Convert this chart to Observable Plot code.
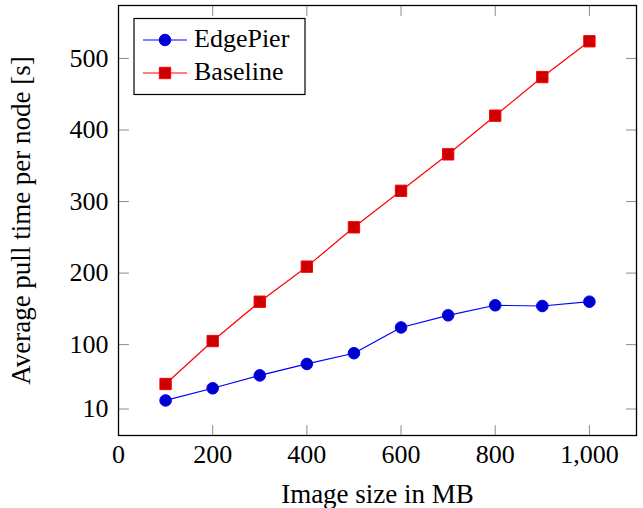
<!DOCTYPE html>
<html>
<head>
<meta charset="utf-8">
<script src="https://cdn.jsdelivr.net/npm/d3@7"></script>
<script src="https://cdn.jsdelivr.net/npm/@observablehq/plot@0.6"></script>
<style>
  body { margin: 0; background: #fff; }
  #chart { position: relative; width: 643px; height: 508px; }
  #chart svg, #chart svg text { font-family: 'Liberation Serif', 'Times New Roman', serif; }
</style>
</head>
<body>
<div id="chart"></div>
<script>
// Data
const sizes = [100, 200, 300, 400, 500, 600, 700, 800, 900, 1000];
const edgePier = [22, 39, 57, 73, 88, 124, 141, 155, 154, 160];
const baseline = [45, 105, 160, 209, 264, 315, 366, 420, 474, 524];
const seriesNames = ["EdgePier", "Baseline"];
const xTicks = [0, 200, 400, 600, 800, 1000];
const yTicks = [10, 100, 200, 300, 400, 500];

const rows = [];
sizes.forEach((s, i) => {
  rows.push({series: "EdgePier", x: s, y: edgePier[i]});
  rows.push({series: "Baseline", x: s, y: baseline[i]});
});
const ep = rows.filter(d => d.series === "EdgePier");
const bl = rows.filter(d => d.series === "Baseline");

const FONT = "Liberation Serif";
const tickShape = {draw(ctx, l) { ctx.moveTo(0, 0); ctx.lineTo(0, -l); }};
const tickGray = "#8c8c8c";
const TL = 10;

const plot = Plot.plot({
  width: 643,
  height: 508,
  marginLeft: 118,
  marginTop: 5,
  marginRight: 7,
  marginBottom: 73,
  style: {fontFamily: FONT, fontSize: "26px", background: "white", color: "black"},
  x: {domain: [0, 1100]},
  y: {domain: [-27, 574]},
  marks: [
    Plot.axisX(xTicks, {tickSize: 0, tickPadding: 9, tickFormat: d3.format(","), fontSize: 26, fontFamily: FONT, label: null}),
    Plot.axisX({ticks: [], tickSize: 0, fontSize: 27, fontFamily: FONT,
      label: "Image size in MB", labelAnchor: "center", labelArrow: "none", labelOffset: 67}),
    Plot.axisY(yTicks, {tickSize: 0, tickPadding: 10, fontSize: 26, fontFamily: FONT, label: null}),
    Plot.axisY({ticks: [], tickSize: 0, fontSize: 27, fontFamily: FONT,
      label: "Average pull time per node [s]", labelAnchor: "center", labelArrow: "none", labelOffset: 108}),
    Plot.vector(xTicks, {x: d => d, frameAnchor: "bottom", rotate: 0, length: TL, anchor: "start", shape: tickShape, stroke: tickGray, strokeWidth: 1}),
    Plot.vector(xTicks, {x: d => d, frameAnchor: "top", rotate: 180, length: TL, anchor: "start", shape: tickShape, stroke: tickGray, strokeWidth: 1}),
    Plot.vector(yTicks, {y: d => d, frameAnchor: "left", rotate: 90, length: TL, anchor: "start", shape: tickShape, stroke: tickGray, strokeWidth: 1}),
    Plot.vector(yTicks, {y: d => d, frameAnchor: "right", rotate: -90, length: TL, anchor: "start", shape: tickShape, stroke: tickGray, strokeWidth: 1}),
    Plot.frame({stroke: "black", strokeWidth: 1.3}),
    Plot.line(ep, {x: "x", y: "y", stroke: "#0000ff", strokeWidth: 1.2}),
    Plot.line(bl, {x: "x", y: "y", stroke: "#ff0000", strokeWidth: 1.2}),
    Plot.dot(ep, {x: "x", y: "y", r: 5.8, symbol: "circle", fill: "#0000cc", stroke: "#0000ff", strokeWidth: 1}),
    Plot.dot(bl, {x: "x", y: "y", r: 6.4, symbol: "square", fill: "#cc0000", stroke: "#ff0000", strokeWidth: 1})
  ]
});

document.getElementById("chart").appendChild(plot);

// Legend inside plot area (top-left)
const svg = d3.select(plot);
const lg = svg.append("g").attr("font-family", FONT).attr("font-size", 26).attr("text-anchor", "start");
lg.append("rect").attr("x", 134).attr("y", 18.5).attr("width", 171).attr("height", 76)
  .attr("fill", "white").attr("stroke", "black").attr("stroke-width", 1.2);
const legendItems = [
  {name: seriesNames[0], line: "#0000ff", fill: "#0000cc", sym: d3.symbolCircle, size: Math.PI * 5.8 * 5.8},
  {name: seriesNames[1], line: "#ff0000", fill: "#cc0000", sym: d3.symbolSquare, size: Math.PI * 6.4 * 6.4}
];
legendItems.forEach((it, i) => {
  const cy = 40 + i * 33;
  lg.append("line").attr("x1", 143).attr("x2", 187).attr("y1", cy).attr("y2", cy)
    .attr("stroke", it.line).attr("stroke-width", 1.2);
  lg.append("path").attr("d", d3.symbol(it.sym, it.size)()).attr("transform", `translate(165,${cy})`)
    .attr("fill", it.fill).attr("stroke", it.line);
  lg.append("text").attr("x", 194).attr("y", cy + 6.5).attr("text-anchor", "start").text(it.name);
});
</script>
</body>
</html>
